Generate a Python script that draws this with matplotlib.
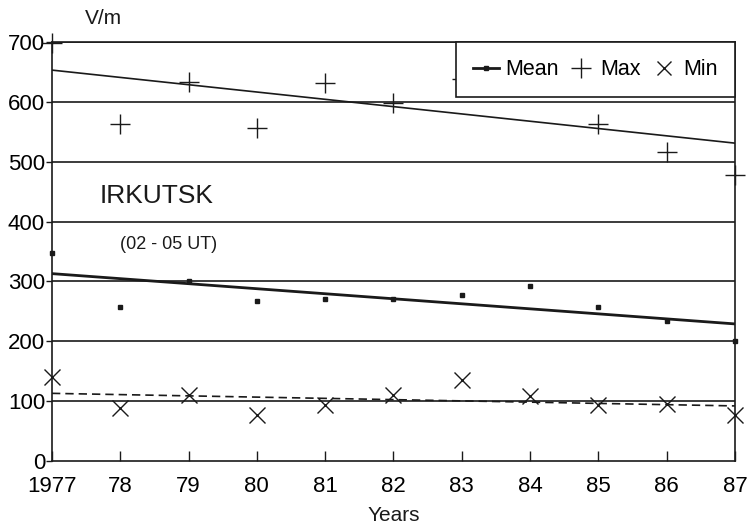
import numpy as np
import matplotlib
matplotlib.use("Agg")
import matplotlib.pyplot as plt
from matplotlib.lines import Line2D

plt.rcParams['font.family'] = ['Liberation Sans', 'DejaVu Sans']

years = [1977, 1978, 1979, 1980, 1981, 1982, 1983, 1984, 1985, 1986, 1987]
year_labels = ['1977', '78', '79', '80', '81', '82', '83', '84', '85', '86', '87']
max_vals = [698, 563, 633, 556, 631, 598, 638, 650, 563, 516, 477]
mean_vals = [348, 257, 300, 267, 271, 271, 278, 292, 257, 234, 201]
min_vals = [140, 89, 110, 77, 94, 110, 136, 109, 94, 95, 77]
trend_years = [1977, 1987]
max_trend = [653, 531]
mean_trend = [313, 229]
min_trend = [113, 92]
y_ticks = [0, 100, 200, 300, 400, 500, 600, 700]

ink = '#1a1a1a'
fig = plt.figure(figsize=(7.48, 5.26), dpi=100)
ax = fig.add_axes([0.0695, 0.1236, 0.913, 0.7966])
ax.set_xlim(1977, 1987)
ax.set_ylim(0, 700)

for yv in y_ticks[1:]:
    ax.axhline(yv, color=ink, lw=1.2, zorder=1)

ax.plot(trend_years, max_trend, color=ink, lw=1.2, zorder=2)
ax.plot(trend_years, mean_trend, color=ink, lw=2.0, zorder=2)
ax.plot(trend_years, min_trend, color=ink, lw=1.2, ls=(0, (5, 3)), zorder=2)

ax.plot(years, max_vals, ls='none', marker='+', ms=15, mew=1.0, color=ink, zorder=3, clip_on=False)
ax.plot(years, mean_vals, ls='none', marker='s', ms=3.5, color=ink, zorder=3, clip_on=False)
ax.plot(years, min_vals, ls='none', marker='x', ms=12, mew=1.0, color=ink, zorder=3, clip_on=False)

ax.set_xticks(years)
ax.set_xticklabels(year_labels, fontsize=16)
ax.set_yticks(y_ticks)
ax.set_yticklabels([str(v) for v in y_ticks], fontsize=16)
ax.tick_params(axis='x', direction='in', length=7, width=1.0, color=ink, pad=11)
ax.tick_params(axis='y', direction='out', length=4, width=1.0, color=ink, pad=1)
for s in ax.spines.values():
    s.set_color(ink)
    s.set_linewidth(1.2)

ax.set_xlabel('Years', fontsize=15, labelpad=6, color=ink)
fig.text(0.113, 0.965, 'V/m', fontsize=15, ha='left', va='center', color=ink)
ax.text(1977.7, 442, 'IRKUTSK', fontsize=19, ha='left', va='center', color=ink)
ax.text(1978.0, 361, '(02 - 05 UT)', fontsize=13, ha='left', va='center', color=ink)

handles = [
    Line2D([], [], color=ink, lw=2, marker='s', ms=3.5),
    Line2D([], [], color=ink, ls='none', marker='+', ms=15, mew=1.0),
    Line2D([], [], color=ink, ls='none', marker='x', ms=10, mew=1.0),
]
leg = ax.legend(handles, ['Mean', 'Max', 'Min'], ncol=3, loc='upper right',
                bbox_to_anchor=(1.0, 1.0), fontsize=15.5, frameon=True, fancybox=False,
                handlelength=1.2, handletextpad=0.3, columnspacing=0.45,
                borderpad=0.8, borderaxespad=0.0)
leg.get_frame().set_edgecolor(ink)
leg.get_frame().set_linewidth(1.2)
leg.get_frame().set_alpha(1.0)
leg.set_zorder(10)

fig.savefig('out.png', dpi=100)
